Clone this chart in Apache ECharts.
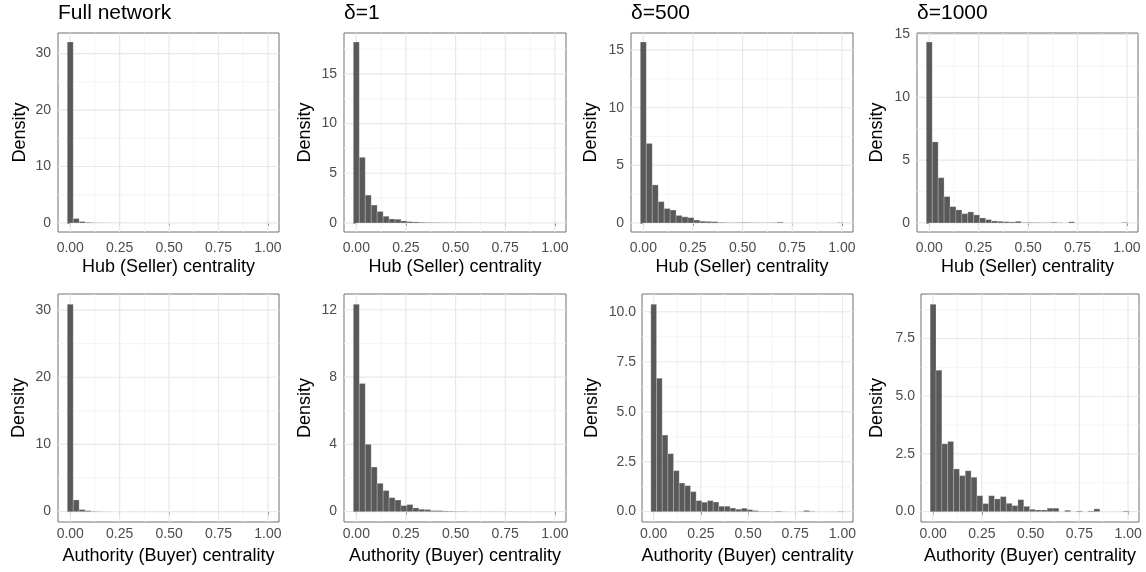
<!DOCTYPE html>
<html><head><meta charset="utf-8">
<script src="https://cdn.jsdelivr.net/npm/echarts@6/dist/echarts.min.js"></script>
<style>html,body{margin:0;padding:0;background:#fff}#c{width:1146px;height:572px}</style>
</head><body><div id="c"></div>
<script>
// ---------------- DATA ----------------
const binCenters = [0.00,0.03,0.06,0.09,0.12,0.15,0.18,0.21,0.24,0.27,0.30,0.33,0.36,0.39,0.42,0.45,0.48,0.51,0.54,0.57,0.60,0.63,0.66,0.69,0.72,0.75,0.78,0.81,0.84,0.87,0.90,0.93,0.96,0.99];
const binWidth = 0.03;

const hubFull   = [32.05,0.78,0.25,0.10,0.05,0.03,0.02,0.01,0.01,0.01,0.005,0.005,0,0,0,0,0,0,0,0,0,0,0,0,0,0,0,0,0,0,0,0,0,0];
const hubD1     = [18.2,6.6,2.8,1.8,1.15,0.67,0.40,0.37,0.20,0.13,0.10,0.07,0.05,0.04,0.03,0.02,0.02,0.02,0.01,0.02,0.01,0.01,0.01,0,0,0.01,0,0,0,0,0,0,0,0];
const hubD500   = [15.7,6.9,3.3,1.85,1.25,1.12,0.65,0.53,0.46,0.25,0.15,0.13,0.11,0.05,0.03,0.02,0.03,0.04,0.03,0.02,0.02,0.02,0.03,0.07,0,0,0,0,0,0,0,0,0,0.03];
const hubD1000  = [14.4,6.45,3.6,2.1,1.3,1.04,0.74,0.88,0.64,0.40,0.27,0.16,0.13,0.10,0.08,0.13,0.03,0.04,0.03,0.02,0.02,0.05,0.02,0,0.09,0,0,0,0,0,0,0,0,0.04];
const authFull  = [30.85,1.74,0.30,0.15,0.06,0.03,0.02,0.01,0.01,0.005,0,0,0,0,0,0,0,0,0,0,0,0,0,0,0,0,0,0,0,0,0,0,0,0];
const authD1    = [12.32,7.62,4.0,2.65,1.68,1.25,0.83,0.69,0.36,0.42,0.22,0.14,0.12,0.06,0.06,0.04,0.03,0.02,0.02,0.01,0.01,0.01,0.01,0.01,0.01,0.005,0.01,0.005,0.005,0.005,0.005,0.005,0.005,0.005];
const authD500  = [10.37,6.67,3.83,2.90,2.05,1.43,1.30,1.00,0.55,0.47,0.55,0.48,0.27,0.27,0.18,0.12,0.17,0.10,0.05,0.02,0.02,0.01,0.03,0.01,0,0,0.01,0.06,0.02,0,0,0,0,0.02];
const authD1000 = [8.98,6.13,2.94,3.04,1.85,1.56,1.77,1.49,0.69,0.35,0.69,0.55,0.65,0.36,0.26,0.52,0.23,0.10,0.07,0.07,0.15,0.15,0,0.06,0,0.03,0,0.03,0.12,0,0,0,0,0.03];

const titles = ['Full network','δ=1','δ=500','δ=1000'];
const xNameHub = 'Hub (Seller) centrality';
const xNameAuth = 'Authority (Buyer) centrality';
const yName = 'Density';

const xTicks = [0, 0.25, 0.5, 0.75, 1];
const xTickLabels = ['0.00','0.25','0.50','0.75','1.00'];
const yTicks30 = [0, 10, 20, 30];
const yLabels30 = ['0','10','20','30'];
const yTicks15 = [0, 5, 10, 15];
const yLabels15 = ['0','5','10','15'];
const yTicks12 = [0, 4, 8, 12];
const yLabels12 = ['0','4','8','12'];
const yTicks10 = [0, 2.5, 5, 7.5, 10];
const yLabels10 = ['0.0','2.5','5.0','7.5','10.0'];
const yTicks75 = [0, 2.5, 5, 7.5];
const yLabels75 = ['0.0','2.5','5.0','7.5'];

// ---------------- LAYOUT / STYLE ----------------
const FONT = '"Liberation Sans", Arial, Helvetica, sans-serif';
const layout = [
  {l:58,  t:33,  w:221, h:199, gap:29, xm:9,   xg:26.5, ym:7},
  {l:344, t:33,  w:222, h:199, gap:30, xm:9,   xg:26.5, ym:7},
  {l:631, t:33,  w:222, h:199, gap:30.5, xm:9, xg:26.5, ym:7},
  {l:917, t:33,  w:221, h:199, gap:31, xm:9,   xg:26.5, ym:7},
  {l:58,  t:294, w:221, h:228, gap:30, xm:5,   xg:25,   ym:7},
  {l:344, t:294, w:222, h:228, gap:30, xm:5,   xg:25,   ym:7},
  {l:642, t:294, w:211, h:228, gap:41, xm:5,   xg:25,   ym:6},
  {l:921, t:294, w:218, h:228, gap:35, xm:5,   xg:25,   ym:6}
];
const panels = [
  {vals:hubFull,   yt:yTicks30, yl:yLabels30, xn:xNameHub},
  {vals:hubD1,     yt:yTicks15, yl:yLabels15, xn:xNameHub},
  {vals:hubD500,   yt:yTicks15, yl:yLabels15, xn:xNameHub},
  {vals:hubD1000,  yt:yTicks15, yl:yLabels15, xn:xNameHub},
  {vals:authFull,  yt:yTicks30, yl:yLabels30, xn:xNameAuth},
  {vals:authD1,    yt:yTicks12, yl:yLabels12, xn:xNameAuth},
  {vals:authD500,  yt:yTicks10, yl:yLabels10, xn:xNameAuth},
  {vals:authD1000, yt:yTicks75, yl:yLabels75, xn:xNameAuth}
];
const X_MIN = -0.062, X_MAX = 1.056;

function minors(ticks, lo, hi) {
  const step = ticks[1] - ticks[0];
  const out = [];
  for (let i = 0; i < ticks.length - 1; i++) out.push((ticks[i] + ticks[i+1]) / 2);
  out.unshift(ticks[0] - step / 2);
  out.push(ticks[ticks.length-1] + step / 2);
  return out.filter(v => v > lo && v < hi);
}

const grid = [], xAxis = [], yAxis = [], series = [], title = [];
panels.forEach((p, i) => {
  const L = layout[i];
  const ymaxData = Math.max.apply(null, p.vals);
  const yMin = -0.05 * ymaxData, yMax = 1.05 * ymaxData;
  grid.push({left:L.l, top:L.t, width:L.w, height:L.h, show:true, backgroundColor:'#fff',
    borderColor:'#707070', borderWidth:1, containLabel:false, outerBoundsMode:'none'});
  xAxis.push({type:'value', gridIndex:i, min:X_MIN, max:X_MAX,
    axisLine:{show:false}, splitLine:{show:false},
    axisTick:{show:true, length:3, lineStyle:{color:'#333', width:1}, customValues:xTicks},
    axisLabel:{customValues:xTicks, margin:L.xm, color:'#4d4d4d', fontSize:14, fontFamily:FONT,
      formatter:v => { const k = xTicks.findIndex(t => Math.abs(t - v) < 1e-9); return k >= 0 ? xTickLabels[k] : ''; }},
    name:p.xn, nameLocation:'middle', nameGap:L.xg,
    nameTextStyle:{color:'#000', fontSize:18, fontFamily:FONT}});
  yAxis.push({type:'value', gridIndex:i, min:yMin, max:yMax,
    axisLine:{show:false}, splitLine:{show:false},
    axisTick:{show:true, length:3, lineStyle:{color:'#333', width:1}, customValues:p.yt},
    axisLabel:{customValues:p.yt, margin:L.ym, color:'#4d4d4d', fontSize:14, fontFamily:FONT,
      formatter:v => { const k = p.yt.findIndex(t => Math.abs(t - v) < 1e-9); return k >= 0 ? p.yl[k] : ''; }},
    name:yName, nameLocation:'middle', nameGap:L.gap, nameRotate:90,
    nameTextStyle:{color:'#000', fontSize:18, fontFamily:FONT}});

  const lineSeries = (vals, dir, color, width) => ({
    type:'custom', xAxisIndex:i, yAxisIndex:i, silent:true, clip:false, z:1,
    data: vals.map(v => dir === 'x' ? [v, 0] : [0, v]),
    encode:{x:0, y:1},
    renderItem(params, api) {
      const cs = params.coordSys;
      const pt = api.coord([api.value(0), api.value(1)]);
      if (dir === 'x') return {type:'line', shape:{x1:pt[0], y1:cs.y, x2:pt[0], y2:cs.y + cs.height}, style:{stroke:color, lineWidth:width}};
      return {type:'line', shape:{x1:cs.x, y1:pt[1], x2:cs.x + cs.width, y2:pt[1]}, style:{stroke:color, lineWidth:width}};
    }
  });
  series.push(lineSeries(minors(xTicks, X_MIN, X_MAX), 'x', '#f2f2f2', 0.8));
  series.push(lineSeries(minors(p.yt, yMin, yMax), 'y', '#f2f2f2', 0.8));
  series.push(lineSeries(xTicks, 'x', '#e8e8e8', 1.2));
  series.push(lineSeries(p.yt, 'y', '#e8e8e8', 1.2));

  series.push({
    type:'custom', xAxisIndex:i, yAxisIndex:i, silent:true, z:3,
    data: binCenters.map((c, k) => [c, p.vals[k]]),
    encode:{x:0, y:1},
    renderItem(params, api) {
      const c = api.value(0), v = api.value(1);
      if (!(v > 0)) return null;
      const a = api.coord([c - binWidth / 2, 0]);
      const b = api.coord([c + binWidth / 2, v]);
      return {type:'rect', shape:{x:a[0], y:b[1], width:b[0] - a[0], height:a[1] - b[1]},
        style:{fill:'#595959', stroke:'rgba(255,255,255,0.35)', lineWidth:0.6}};
    }
  });
});
titles.forEach((t, i) => {
  title.push({text:t, left:layout[i].l, top:3, padding:0,
    textStyle:{color:'#000', fontSize:21, fontWeight:'normal', fontFamily:FONT}});
});

const chart = echarts.init(document.getElementById('c'), null, {renderer:'canvas'});
chart.setOption({animation:false, backgroundColor:'#fff', title, grid, xAxis, yAxis, series});
</script>
</body></html>
